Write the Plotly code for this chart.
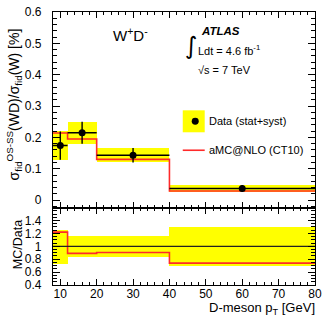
import plotly.graph_objects as go

# ---- data ----
bin_lo = [8, 12, 20, 40]
bin_hi = [12, 20, 40, 80]
data_val = [0.174, 0.215, 0.143, 0.037]
data_err = [0.045, 0.035, 0.023, 0.011]
mc_val = [0.214, 0.195, 0.130, 0.029]
ratio_mc = [1.22, 0.89, 0.905, 0.74]
ratio_err = [0.265, 0.16, 0.16, 0.30]
ratio_data = [1.0, 1.0, 1.0, 1.0]
ratio_ticks = [0.4, 0.6, 0.8, 1.0, 1.2, 1.4]
ratio_ticktext = ["0.4", "0.6", "0.8", "1", "1.2", "1.4"]

centers = [(a + b) / 2 for a, b in zip(bin_lo, bin_hi)]
widths = [b - a for a, b in zip(bin_lo, bin_hi)]
half = [w / 2 for w in widths]
edges = bin_lo + [bin_hi[-1]]

FONT = "Liberation Sans, Arial, Helvetica, sans-serif"
YELLOW = "#ffff00"
RED = "#ff2a2a"

fig = go.Figure()

# top panel band
fig.add_trace(go.Bar(
    x=centers, y=[2 * e for e in data_err],
    base=[v - e for v, e in zip(data_val, data_err)],
    width=widths, marker=dict(color=YELLOW, line=dict(width=0)),
    xaxis="x", yaxis="y", showlegend=False, hoverinfo="skip"))
# MC step
fig.add_trace(go.Scatter(
    x=edges, y=mc_val + [mc_val[-1]], mode="lines", line_shape="hv",
    line=dict(color=RED, width=1.6), xaxis="x", yaxis="y", showlegend=False))
# data points
fig.add_trace(go.Scatter(
    x=centers, y=data_val, mode="markers",
    marker=dict(color="black", size=7),
    error_x=dict(type="data", array=half, color="black", thickness=1.4, width=0),
    error_y=dict(type="data", array=data_err, color="black", thickness=1.4, width=0),
    xaxis="x", yaxis="y", showlegend=False))

# ratio panel band
fig.add_trace(go.Bar(
    x=centers, y=[2 * e for e in ratio_err],
    base=[1 - e for e in ratio_err],
    width=widths, marker=dict(color=YELLOW, line=dict(width=0)),
    xaxis="x2", yaxis="y2", showlegend=False, hoverinfo="skip"))
fig.add_trace(go.Scatter(
    x=edges, y=ratio_mc + [ratio_mc[-1]], mode="lines", line_shape="hv",
    line=dict(color=RED, width=1.6), xaxis="x2", yaxis="y2", showlegend=False))
fig.add_trace(go.Scatter(
    x=edges, y=ratio_data + [ratio_data[-1]], mode="lines", line_shape="hv",
    line=dict(color="#222222", width=1.2), xaxis="x2", yaxis="y2", showlegend=False))

L, R, T, B = 53, 16.5, 11.5, 34
W, H = 332, 319
ph = H - T - B
pw = W - L - R
split = 77.5 / ph

axis_common = dict(showline=True, linecolor="black", linewidth=1.2, mirror="allticks",
                   ticks="inside", tickcolor="black", showgrid=False, zeroline=False,
                   automargin=False,
                   tickfont=dict(family=FONT, size=12, color="black"))

fig.update_layout(
    width=W, height=H, margin=dict(l=L, r=R, t=T, b=B, autoexpand=False),
    paper_bgcolor="white", plot_bgcolor="white", barmode="overlay", bargap=0,
    showlegend=False,
    xaxis=dict(domain=[0, 1], anchor="y", range=[8, 80], dtick=10, tick0=0,
               ticklen=6, tickwidth=1.2, showticklabels=False, matches="x2",
               minor=dict(dtick=2, ticklen=3, ticks="inside", tickcolor="black"),
               **axis_common),
    yaxis=dict(domain=[split, 1], anchor="x", range=[-0.024, 0.6], dtick=0.1, tick0=0,
               ticklen=7, tickwidth=1.2, ticklabelstandoff=8,
               minor=dict(dtick=0.02, ticklen=4, ticks="inside", tickcolor="black"),
               **axis_common),
    xaxis2=dict(domain=[0, 1], anchor="y2", range=[8, 80], dtick=10, tick0=0,
                ticklen=6, tickwidth=1.2, ticklabelstandoff=-3,
                minor=dict(dtick=2, ticklen=3, ticks="inside", tickcolor="black"),
                **axis_common),
    yaxis2=dict(domain=[0, split], anchor="x2", range=[0.4, 1.6],
                tickmode="array", tickvals=ratio_ticks, ticktext=ratio_ticktext,
                ticklen=7, tickwidth=1.2, ticklabelstandoff=8,
                minor=dict(dtick=0.05, tick0=0, ticklen=4, ticks="inside", tickcolor="black"),
                **axis_common),
)


def px(x):
    return (x - L) / pw


def py(y):
    return (H - B - y) / ph


ann = []
tf = dict(family=FONT, color="black")
# y title
ann.append(dict(xref="paper", yref="paper", x=px(14), y=py(104), textangle=-90,
                text="σ<sub>fid</sub><sup>OS-SS</sup>(WD)/σ<sub>fid</sub>(W) [%]",
                showarrow=False, font=dict(size=14, **tf), xanchor="center", yanchor="middle"))
ann.append(dict(xref="paper", yref="paper", x=px(18), y=py(245), textangle=-90,
                text="MC/Data", showarrow=False, font=dict(size=12.5, **tf),
                xanchor="center", yanchor="middle"))
ann.append(dict(xref="paper", yref="paper", x=px(318), y=py(309),
                text="D-meson p<sub>T</sub> [GeV]", showarrow=False,
                font=dict(size=13, **tf), xanchor="right", yanchor="middle"))
ann.append(dict(xref="paper", yref="paper", x=px(111), y=py(34),
                text="W<sup>+</sup>D<sup>-</sup>", showarrow=False,
                font=dict(size=15, **tf), xanchor="left", yanchor="middle"))
ann.append(dict(xref="paper", yref="paper", x=px(199), y=py(31),
                text="<b><i>ATLAS</i></b>", showarrow=False,
                font=dict(size=11.5, **tf), xanchor="left", yanchor="middle"))
ann.append(dict(xref="paper", yref="paper", x=px(183), y=py(46),
                text="∫", showarrow=False,
                font=dict(size=24, family="DejaVu Sans", color="black"),
                xanchor="left", yanchor="middle"))
ann.append(dict(xref="paper", yref="paper", x=px(196), y=py(50),
                text="Ldt = 4.6 fb<sup>-1</sup>", showarrow=False,
                font=dict(size=11, **tf), xanchor="left", yanchor="middle"))
ann.append(dict(xref="paper", yref="paper", x=px(196), y=py(70),
                text="√s = 7 TeV", showarrow=False,
                font=dict(size=11, **tf), xanchor="left", yanchor="middle"))
ann.append(dict(xref="paper", yref="paper", x=px(207), y=py(121),
                text="Data (stat+syst)", showarrow=False,
                font=dict(size=11, **tf), xanchor="left", yanchor="middle"))
ann.append(dict(xref="paper", yref="paper", x=px(207), y=py(150),
                text="aMC@NLO (CT10)", showarrow=False,
                font=dict(size=11, **tf), xanchor="left", yanchor="middle"))

shapes = [
    dict(type="rect", xref="paper", yref="paper", x0=px(183), x1=px(205),
         y0=py(132), y1=py(110), fillcolor=YELLOW, line=dict(width=0), layer="above"),
    dict(type="circle", xref="paper", yref="paper", x0=px(192), x1=px(199),
         y0=py(124.5), y1=py(117.5), fillcolor="black", line=dict(width=0), layer="above"),
    dict(type="line", xref="paper", yref="paper", x0=px(183), x1=px(205),
         y0=py(150), y1=py(150), line=dict(color=RED, width=1.6), layer="above"),
]

fig.update_layout(annotations=ann, shapes=shapes)
fig.write_html("out.html", config={"displayModeBar": False},
               post_script="document.body.style.margin='0px';document.body.style.padding='0px';")
